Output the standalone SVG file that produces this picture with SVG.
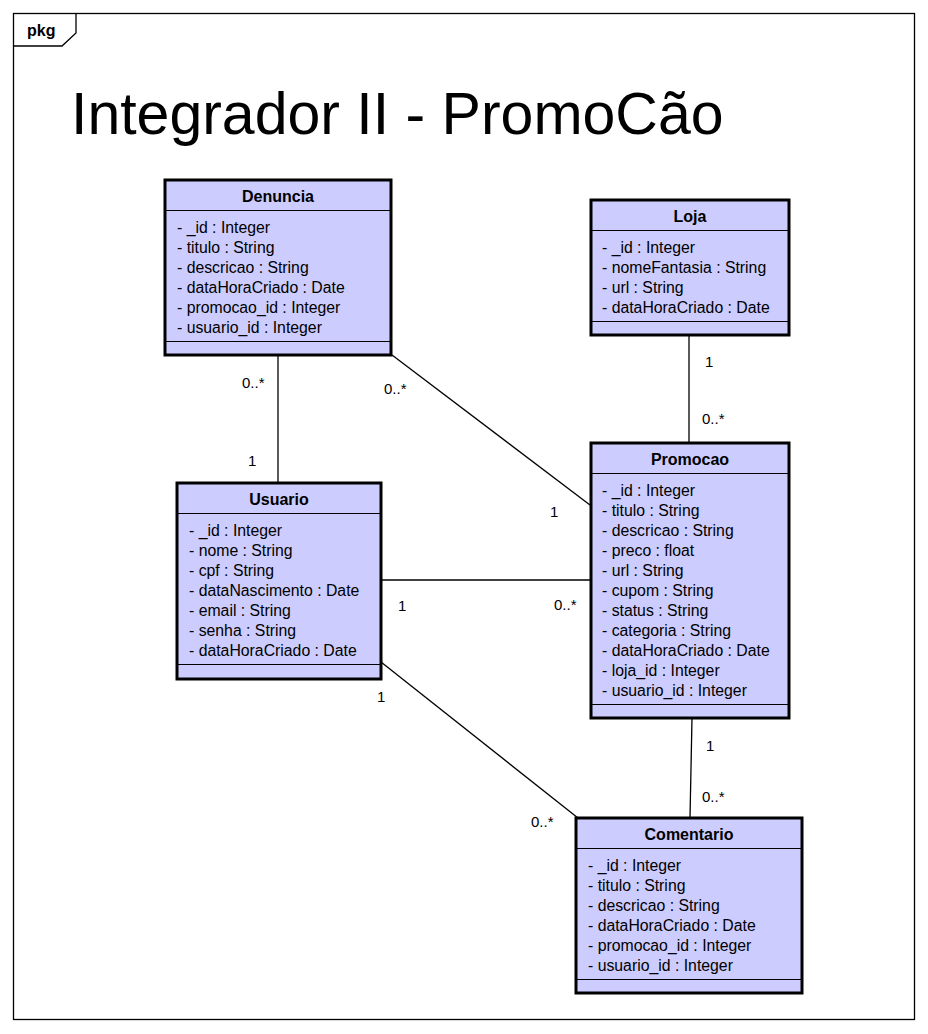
<svg xmlns="http://www.w3.org/2000/svg" width="928" height="1034" viewBox="0 0 928 1034">
<style>
.box{fill:#CCCCFF;stroke:#000;stroke-width:3}
.sep{stroke:#000;stroke-width:1}
.name{font-family:"Liberation Sans",Arial,sans-serif;font-size:16px;font-weight:bold;text-anchor:middle;fill:#000}
.attr{font-family:"Liberation Sans",Arial,sans-serif;font-size:15.8px;fill:#000}
.lbl{font-family:"Liberation Sans",Arial,sans-serif;font-size:15px;fill:#000}
.conn line{stroke:#000;stroke-width:1.3}
</style>
<rect width="928" height="1034" fill="#fff"/>
<g id="frame">
<rect x="13.5" y="13.5" width="901" height="1006" fill="none" stroke="#000" stroke-width="1.3"/>
<polyline points="76,13.5 76,33 62,46 13.5,46" fill="none" stroke="#000" stroke-width="1.3"/>
<text x="27" y="36" class="name" style="text-anchor:start">pkg</text>
<text x="71" y="134" style="font-family:'Liberation Sans',Arial,sans-serif;font-size:59px;fill:#000">Integrador II - PromoCão</text>
</g>
<g id="connectors" class="conn">
<line x1="278" y1="355" x2="278" y2="483"/>
<line x1="392" y1="355" x2="590" y2="505"/>
<line x1="689" y1="336" x2="689" y2="443"/>
<line x1="381" y1="580" x2="591" y2="580"/>
<line x1="381" y1="662" x2="578" y2="818"/>
<line x1="692" y1="718" x2="690" y2="818"/>
</g>
<g id="labels">
<text class="lbl" x="242" y="388">0..*</text>
<text class="lbl" x="248" y="466">1</text>
<text class="lbl" x="384" y="394">0..*</text>
<text class="lbl" x="550" y="517">1</text>
<text class="lbl" x="705" y="367">1</text>
<text class="lbl" x="702" y="424">0..*</text>
<text class="lbl" x="398" y="611">1</text>
<text class="lbl" x="554" y="610">0..*</text>
<text class="lbl" x="377" y="702">1</text>
<text class="lbl" x="531" y="827">0..*</text>
<text class="lbl" x="706" y="751">1</text>
<text class="lbl" x="702" y="802">0..*</text>
</g>
<g id="Denuncia">
<rect class="box" x="165" y="180" width="226" height="175"/>
<text class="name" x="278" y="202">Denuncia</text>
<line class="sep" x1="165" y1="210.5" x2="391" y2="210.5"/>
<text class="attr" x="177" y="233">- _id : Integer</text>
<text class="attr" x="177" y="253">- titulo : String</text>
<text class="attr" x="177" y="273">- descricao : String</text>
<text class="attr" x="177" y="293">- dataHoraCriado : Date</text>
<text class="attr" x="177" y="313">- promocao_id : Integer</text>
<text class="attr" x="177" y="333">- usuario_id : Integer</text>
<line class="sep" x1="165" y1="341.5" x2="391" y2="341.5"/>
</g>
<g id="Loja">
<rect class="box" x="591" y="200" width="198" height="135"/>
<text class="name" x="690" y="222">Loja</text>
<line class="sep" x1="591" y1="230.5" x2="789" y2="230.5"/>
<text class="attr" x="602" y="253">- _id : Integer</text>
<text class="attr" x="602" y="273">- nomeFantasia : String</text>
<text class="attr" x="602" y="293">- url : String</text>
<text class="attr" x="602" y="313">- dataHoraCriado : Date</text>
<line class="sep" x1="591" y1="321.5" x2="789" y2="321.5"/>
</g>
<g id="Usuario">
<rect class="box" x="177" y="483" width="204" height="196"/>
<text class="name" x="279" y="505">Usuario</text>
<line class="sep" x1="177" y1="513.5" x2="381" y2="513.5"/>
<text class="attr" x="189" y="536">- _id : Integer</text>
<text class="attr" x="189" y="556">- nome : String</text>
<text class="attr" x="189" y="576">- cpf : String</text>
<text class="attr" x="189" y="596">- dataNascimento : Date</text>
<text class="attr" x="189" y="616">- email : String</text>
<text class="attr" x="189" y="636">- senha : String</text>
<text class="attr" x="189" y="656">- dataHoraCriado : Date</text>
<line class="sep" x1="177" y1="664.5" x2="381" y2="664.5"/>
</g>
<g id="Promocao">
<rect class="box" x="591" y="443" width="198" height="275"/>
<text class="name" x="690" y="465">Promocao</text>
<line class="sep" x1="591" y1="473.5" x2="789" y2="473.5"/>
<text class="attr" x="602" y="496">- _id : Integer</text>
<text class="attr" x="602" y="516">- titulo : String</text>
<text class="attr" x="602" y="536">- descricao : String</text>
<text class="attr" x="602" y="556">- preco : float</text>
<text class="attr" x="602" y="576">- url : String</text>
<text class="attr" x="602" y="596">- cupom : String</text>
<text class="attr" x="602" y="616">- status : String</text>
<text class="attr" x="602" y="636">- categoria : String</text>
<text class="attr" x="602" y="656">- dataHoraCriado : Date</text>
<text class="attr" x="602" y="676">- loja_id : Integer</text>
<text class="attr" x="602" y="696">- usuario_id : Integer</text>
<line class="sep" x1="591" y1="704.5" x2="789" y2="704.5"/>
</g>
<g id="Comentario">
<rect class="box" x="576" y="818" width="226" height="175"/>
<text class="name" x="689" y="840">Comentario</text>
<line class="sep" x1="576" y1="848.5" x2="802" y2="848.5"/>
<text class="attr" x="588" y="871">- _id : Integer</text>
<text class="attr" x="588" y="891">- titulo : String</text>
<text class="attr" x="588" y="911">- descricao : String</text>
<text class="attr" x="588" y="931">- dataHoraCriado : Date</text>
<text class="attr" x="588" y="951">- promocao_id : Integer</text>
<text class="attr" x="588" y="971">- usuario_id : Integer</text>
<line class="sep" x1="576" y1="979.5" x2="802" y2="979.5"/>
</g>
</svg>
